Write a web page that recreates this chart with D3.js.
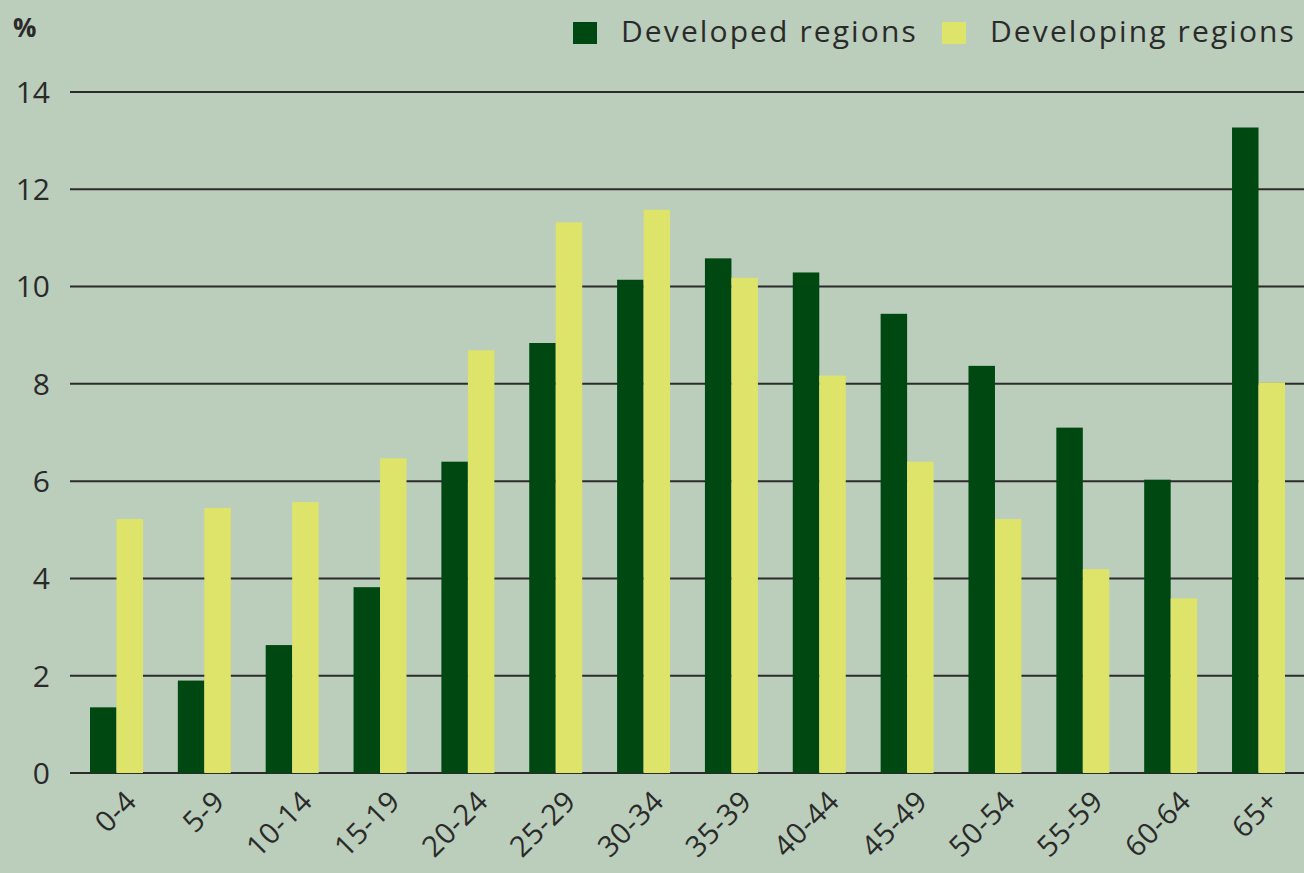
<!DOCTYPE html>
<html>
<head>
    <title>Population by age group</title>
    <script src="https://d3js.org/d3.v7.min.js"></script>
    <style>
        body { margin: 0; background: #bbcdbb; }
        svg { display: block; }
        text { font-family: "Open Sans", sans-serif; fill: #2a2a2a; }
    </style>
</head>
<body>
    <svg width="1304" height="873"></svg>
    <script>
        // age groups and shares (%)
        const ageGroups = ["0-4", "5-9", "10-14", "15-19", "20-24", "25-29", "30-34",
                           "35-39", "40-44", "45-49", "50-54", "55-59", "60-64", "65+"];
        const developed = [1.35, 1.9, 2.63, 3.82, 6.4, 8.84, 10.14, 10.58, 10.29, 9.44, 8.37, 7.1, 6.03, 13.27];
        const developing = [5.22, 5.45, 5.57, 6.47, 8.69, 11.32, 11.58, 10.18, 8.17, 6.4, 5.22, 4.19, 3.59, 8.03];
        const yTicks = [0, 2, 4, 6, 8, 10, 12, 14];
        const seriesNames = ["Developed regions", "Developing regions"];
        const colors = ["#004812", "#dee46a"];

        const svg = d3.select("svg");
        const width = +svg.attr("width");

        const x = d3.scaleBand()
            .domain(ageGroups)
            .range([90, 1285])
            .paddingInner(0.397)
            .paddingOuter(0);

        const xInner = d3.scaleBand()
            .domain([0, 1])
            .range([0, x.bandwidth()]);

        const y = d3.scaleLinear()
            .domain([0, 14])
            .range([773, 92]);

        // gridlines
        svg.append("g")
            .selectAll("line")
            .data(yTicks)
            .enter().append("line")
            .attr("x1", 70)
            .attr("x2", width)
            .attr("y1", d => y(d))
            .attr("y2", d => y(d))
            .attr("stroke", "#2b2b2b")
            .attr("stroke-width", 2);

        // y labels
        svg.append("g")
            .selectAll("text")
            .data(yTicks)
            .enter().append("text")
            .attr("x", 50)
            .attr("y", d => y(d))
            .attr("dy", "0.36em")
            .attr("text-anchor", "end")
            .style("font-size", "30px")
            .text(d => d);

        svg.append("text")
            .attr("x", 13)
            .attr("y", 37)
            .style("font-size", "26px")
            .style("font-weight", "bold")
            .text("%");

        // bars
        const groups = svg.append("g")
            .selectAll("g")
            .data(ageGroups.map((g, i) => ({ group: g, values: [developed[i], developing[i]] })))
            .enter().append("g")
            .attr("transform", d => `translate(${x(d.group)},0)`);

        groups.selectAll("rect")
            .data(d => d.values)
            .enter().append("rect")
            .attr("x", (d, i) => xInner(i))
            .attr("width", xInner.bandwidth())
            .attr("y", d => y(d))
            .attr("height", d => y(0) - y(d))
            .attr("fill", (d, i) => colors[i]);

        // x labels
        svg.append("g")
            .selectAll("text")
            .data(ageGroups)
            .enter().append("text")
            .attr("transform", d => `translate(${x(d) + x.bandwidth() / 2 + 22},${y(0) + 30}) rotate(-45)`)
            .attr("text-anchor", "end")
            .style("font-size", "29px")
            .style("letter-spacing", "0.6px")
            .text(d => d);

        // legend
        const legendX = [573, 942];
        const legend = svg.append("g")
            .selectAll("g")
            .data(seriesNames)
            .enter().append("g")
            .attr("transform", (d, i) => `translate(${legendX[i]},22)`);

        legend.append("rect")
            .attr("width", 24)
            .attr("height", 22)
            .attr("fill", (d, i) => colors[i]);

        legend.append("text")
            .attr("x", 48)
            .attr("y", 20)
            .style("font-size", "30px")
            .style("letter-spacing", "2.1px")
            .text(d => d);
    </script>
</body>
</html>
